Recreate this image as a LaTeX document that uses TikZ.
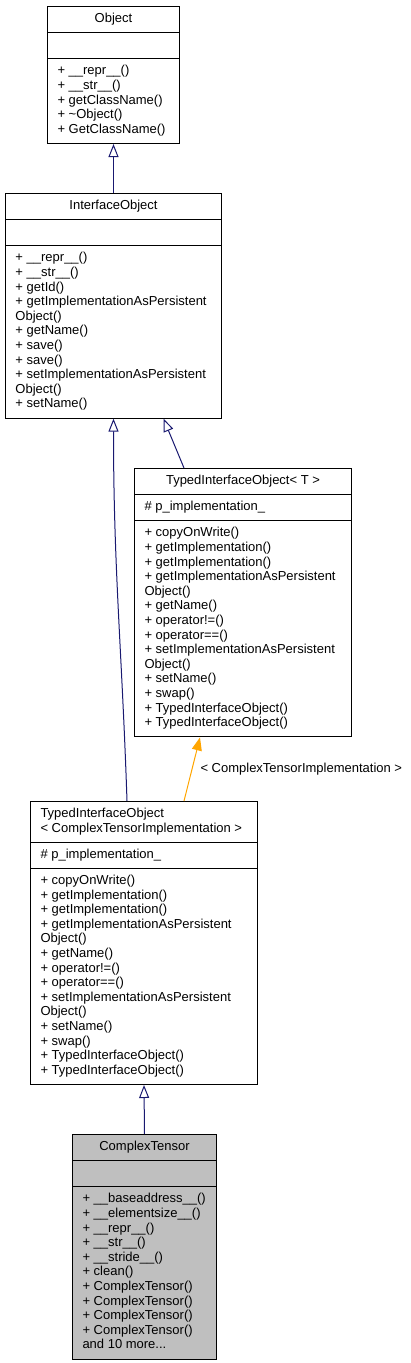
\documentclass[tikz,border=0pt]{standalone}
\usepackage{fontspec}
\setmainfont{Liberation Sans}
\usetikzlibrary{shapes.multipart,arrows.meta}

\definecolor{edgeblue}{HTML}{191970}
\definecolor{edgeorange}{HTML}{FFA500}
\definecolor{classgray}{HTML}{BFBFBF}

\begin{document}
\begin{tikzpicture}[
    x=1pt, y=1pt,
    font=\fontsize{13}{14.6}\selectfont,
    cls/.style={draw, line width=1pt, rectangle split, rectangle split parts=3,
      rectangle split part align={center,left,left}, align=left, anchor=north west,
      inner xsep=10pt, inner ysep=5.3pt},
    inherit/.style={draw=edgeblue, line width=1pt, -{Triangle[open, length=13pt, width=10pt]}},
    usage/.style={draw=edgeorange, line width=1pt, -{Triangle[length=13pt, width=10pt]}}
  ]
  \useasboundingbox (0,0) rectangle (411,-1363);

  \node[cls, minimum width=132pt] (obj) at (47,-6) {\strut Object
    \nodepart{two}\strut
    \nodepart{three}\strut + \_\_repr\_\_()\\ + \_\_str\_\_()\\ + getClassName()\\
      + \textasciitilde Object()\\ + GetClassName()\strut};

  \node[cls, minimum width=216pt] (iface) at (5,-193) {\strut InterfaceObject
    \nodepart{two}\strut
    \nodepart{three}\strut + \_\_repr\_\_()\\ + \_\_str\_\_()\\ + getId()\\
      + getImplementationAsPersistent\\ Object()\\ + getName()\\ + save()\\ + save()\\
      + setImplementationAsPersistent\\ Object()\\ + setName()\strut};

  \node[cls, minimum width=217pt] (tiot) at (134,-468) {\strut TypedInterfaceObject< T >
    \nodepart{two}\strut \# p\_implementation\_
    \nodepart{three}\strut + copyOnWrite()\\ + getImplementation()\\ + getImplementation()\\
      + getImplementationAsPersistent\\ Object()\\ + getName()\\ + operator!=()\\
      + operator==()\\ + setImplementationAsPersistent\\ Object()\\ + setName()\\
      + swap()\\ + TypedInterfaceObject()\\ + TypedInterfaceObject()\strut};

  \node[cls, minimum width=227pt, rectangle split part align={left,left,left}] (ticti) at (30,-801)
    {\strut TypedInterfaceObject\\ < ComplexTensorImplementation >\strut
    \nodepart{two}\strut \# p\_implementation\_
    \nodepart{three}\strut + copyOnWrite()\\ + getImplementation()\\ + getImplementation()\\
      + getImplementationAsPersistent\\ Object()\\ + getName()\\ + operator!=()\\
      + operator==()\\ + setImplementationAsPersistent\\ Object()\\ + setName()\\
      + swap()\\ + TypedInterfaceObject()\\ + TypedInterfaceObject()\strut};

  \node[cls, minimum width=144pt, fill=classgray] (ct) at (72,-1134)
    {\strut ComplexTensor
    \nodepart{two}\strut
    \nodepart{three}\strut + \_\_baseaddress\_\_()\\ + \_\_elementsize\_\_()\\
      + \_\_repr\_\_()\\ + \_\_str\_\_()\\ + \_\_stride\_\_()\\
      + clean()\\ + ComplexTensor()\\ + ComplexTensor()\\
      + ComplexTensor()\\ + ComplexTensor()\\ and 10 more...\strut};

  % inheritance
  \draw[inherit] (iface.north) -- (obj.south);
  \draw[inherit] ([xshift=50pt]tiot.north west) -- ([xshift=50pt]iface.south);
  \draw[inherit] ([xshift=97pt]ticti.north west) .. controls +(-5,150) and +(0,-150) .. (iface.south);
  \draw[inherit] (ct.north) -- (ticti.south);
  % template instance
  \draw[usage] ([xshift=154pt]ticti.north west) -- node[anchor=west, inner sep=0pt, xshift=8pt]
    {< ComplexTensorImplementation >} ([xshift=66pt]tiot.south west);
\end{tikzpicture}
\end{document}
